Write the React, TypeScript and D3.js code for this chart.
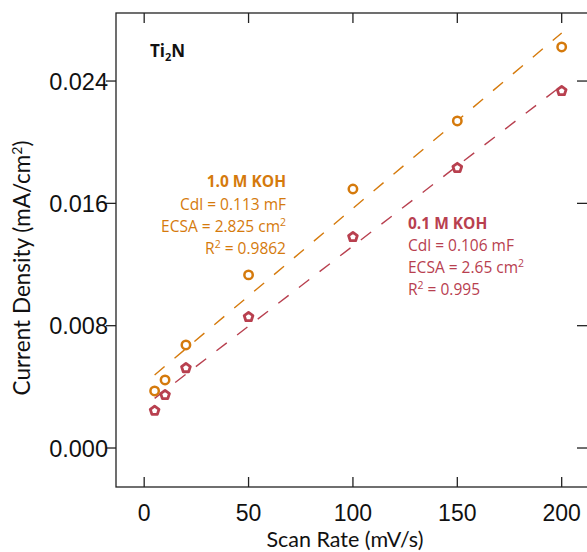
import React from "react";
import * as d3 from "d3";

const scanRates = [5, 10, 20, 50, 100, 150, 200];
const koh10 = [0.00373, 0.00445, 0.00674, 0.01132, 0.01694, 0.02139, 0.02623];
const koh01 = [0.00244, 0.00347, 0.00523, 0.00857, 0.0138, 0.01832, 0.02335];
const xTicks = [0, 50, 100, 150, 200];
const yTicks = [0, 0.008, 0.016, 0.024];

const ORANGE = "#d57a0c";
const RED = "#b8404f";

function fit(xs: number[], ys: number[]) {
  const mx = d3.mean(xs)!;
  const my = d3.mean(ys)!;
  let sxy = 0, sxx = 0;
  xs.forEach((x, i) => { sxy += (x - mx) * (ys[i] - my); sxx += (x - mx) ** 2; });
  const m = sxy / sxx;
  return { m, b: my - m * mx };
}

function pentagon(r: number) {
  const pts = d3.range(5).map(i => {
    const a = -Math.PI / 2 + (i * 2 * Math.PI) / 5;
    return [r * Math.cos(a), r * Math.sin(a)];
  });
  return "M" + pts.map(p => p.join(",")).join("L") + "Z";
}

export default function App() {
  const W = 587, H = 552;
  const left = 116, top = 13, bottom = 487, right = 593;
  const x = d3.scaleLinear().domain([-13.5, 215]).range([left, right]);
  const y = d3.scaleLinear().domain([-0.00255, 0.02845]).range([bottom, top]);
  const f1 = fit(scanRates, koh10);
  const f2 = fit(scanRates, koh01);
  const tickLen = 10;
  const sans = "'Liberation Sans', Arial, sans-serif";
  const cal = "'Open Sans', sans-serif";
  const lato = "Lato, 'Open Sans', sans-serif";
  const ann = { fontFamily: cal, fontSize: 15.5 } as const;
  return (
    <svg width={W} height={H} style={{ position: "absolute", left: 0, top: 0 }}>
      <rect x={0} y={0} width={W} height={H} fill="#fff" />
      {/* frame */}
      <rect x={left} y={top} width={right - left} height={bottom - top} fill="none" stroke="#222" strokeWidth={1.3} />
      {xTicks.map(t => (
        <g key={"x" + t}>
          <line x1={x(t)} x2={x(t)} y1={bottom} y2={bottom - tickLen} stroke="#222" strokeWidth={1.3} />
          <line x1={x(t)} x2={x(t)} y1={top} y2={top + tickLen} stroke="#222" strokeWidth={1.3} />
          <text x={x(t)} y={bottom + 33.5} textAnchor="middle" fontFamily={sans} fontSize={23} fill="#111">{t}</text>
        </g>
      ))}
      {yTicks.map(t => (
        <g key={"y" + t}>
          <line x1={left} x2={left - tickLen} y1={y(t)} y2={y(t)} stroke="#222" strokeWidth={1.3} />
          <line x1={right} x2={right - tickLen - 6} y1={y(t)} y2={y(t)} stroke="#222" strokeWidth={1.3} />
          <text x={left - 8} y={y(t) + 8.5} textAnchor="end" fontFamily={sans} fontSize={23.5} fill="#111">{t.toFixed(3)}</text>
        </g>
      ))}
      {/* fit lines */}
      <line x1={x(5)} y1={y(f1.m * 5 + f1.b)} x2={x(200)} y2={y(f1.m * 200 + f1.b)} stroke={ORANGE} strokeWidth={1.4} strokeDasharray="13 13" />
      <line x1={x(5)} y1={y(f2.m * 5 + f2.b)} x2={x(200)} y2={y(f2.m * 200 + f2.b)} stroke={RED} strokeWidth={1.4} strokeDasharray="13 13" />
      {/* markers */}
      {scanRates.map((s, i) => (
        <circle key={"o" + i} cx={x(s)} cy={y(koh10[i])} r={4.2} fill="#fff" stroke={ORANGE} strokeWidth={2.5} />
      ))}
      {scanRates.map((s, i) => (
        <path key={"p" + i} d={pentagon(4.6)} transform={`translate(${x(s)},${y(koh01[i])})`} fill="#fff" stroke={RED} strokeWidth={2.8} strokeLinejoin="round" />
      ))}
      {/* labels */}
      <text x={150} y={57} fontFamily={cal} fontWeight="bold" fontSize={17} fill="#111">
        Ti<tspan fontSize={11} dy={4}>2</tspan><tspan dy={-4}>N</tspan>
      </text>
      <g fill={ORANGE} textAnchor="end" {...ann}>
        <text x={286} y={187} fontWeight="bold">1.0 M KOH</text>
        <text x={286} y={210}>Cdl = 0.113 mF</text>
        <text x={286} y={232}>ECSA = 2.825 cm<tspan fontSize={10.5} dy={-6}>2</tspan></text>
        <text x={286} y={254}>R<tspan fontSize={10.5} dy={-6}>2</tspan><tspan dy={6}> = 0.9862</tspan></text>
      </g>
      <g fill={RED} {...ann}>
        <text x={408} y={229} fontWeight="bold">0.1 M KOH</text>
        <text x={408} y={251}>Cdl = 0.106 mF</text>
        <text x={408} y={273}>ECSA = 2.65 cm<tspan fontSize={10.5} dy={-6}>2</tspan></text>
        <text x={408} y={295}>R<tspan fontSize={10.5} dy={-6}>2</tspan><tspan dy={6}> = 0.995</tspan></text>
      </g>
      <text x={(x(0) + x(200)) / 2 - 8} y={547} textAnchor="middle" fontFamily={lato} fontSize={21.5} fill="#111">Scan Rate (mV/s)</text>
      <text transform={`translate(30,${268}) rotate(-90)`} textAnchor="middle" fontFamily={lato} fontSize={22.5} fill="#111">
        Current Density (mA/cm<tspan fontSize={14} dy={-8}>2</tspan><tspan dy={8}>)</tspan>
      </text>
    </svg>
  );
}
